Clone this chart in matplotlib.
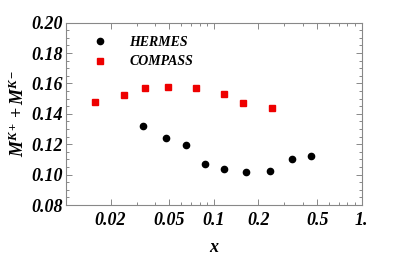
import numpy as np
import matplotlib.pyplot as plt
from matplotlib.ticker import FixedLocator, FixedFormatter, MultipleLocator, FormatStrFormatter

plt.rcParams['font.family'] = 'Liberation Serif'
plt.rcParams['mathtext.fontset'] = 'custom'
plt.rcParams['mathtext.bfit'] = 'Liberation Serif:bold:italic'
plt.rcParams['mathtext.it'] = 'Liberation Serif:bold:italic'
plt.rcParams['mathtext.rm'] = 'Liberation Serif:bold'

# HERMES data
x_hermes = [0.0334, 0.0473, 0.0646, 0.0869, 0.117, 0.165, 0.239, 0.337, 0.452]
m_hermes = [0.1318, 0.1243, 0.1195, 0.1070, 0.1039, 0.1019, 0.1026, 0.1105, 0.1124]

# COMPASS data
x_compass = [0.0156, 0.0246, 0.0343, 0.0489, 0.0763, 0.1174, 0.158, 0.248]
m_compass = [0.1476, 0.1522, 0.1572, 0.1579, 0.1568, 0.1533, 0.1473, 0.1440]

xticks = [0.02, 0.05, 0.1, 0.2, 0.5, 1.0]
xticklabels = ['0.02', '0.05', '0.1', '0.2', '0.5', '1.']

fig = plt.figure(figsize=(4.15, 2.58), dpi=100)
ax = fig.add_axes([66/415, 1-205/258, (361.7-66)/415, (205-22.7)/258])

ax.plot(x_hermes, m_hermes, 'o', color='black', ms=4.5, label='HERMES')
ax.plot(x_compass, m_compass, 's', color='#ee0000', ms=4, label='COMPASS')

ax.set_xscale('log')
ax.set_xlim(0.01, 1.0)
ax.set_ylim(0.08, 0.20)

ax.xaxis.set_major_locator(FixedLocator(xticks))
ax.xaxis.set_major_formatter(FixedFormatter(xticklabels))
minors = [m * 10.0**e for e in (-2, -1) for m in range(2, 10)]
ax.xaxis.set_minor_locator(FixedLocator(minors))
ax.xaxis.set_minor_formatter(FixedFormatter([''] * len(minors)))
ax.yaxis.set_major_locator(MultipleLocator(0.02))
ax.yaxis.set_minor_locator(MultipleLocator(0.005))
ax.yaxis.set_major_formatter(FormatStrFormatter('%.2f'))

for s in ax.spines.values():
    s.set_color('#888888')
    s.set_linewidth(0.8)
ax.tick_params(which='both', direction='in', top=True, right=True, color='#888888', width=0.7)
ax.tick_params(which='major', length=4, labelsize=13)
ax.tick_params(axis='x', which='major', pad=5)
ax.tick_params(axis='y', which='major', pad=2)
ax.tick_params(which='minor', length=2)
for lab in ax.get_xticklabels() + ax.get_yticklabels():
    lab.set_fontweight('bold')
    lab.set_fontstyle('italic')

ax.set_xlabel('x', fontsize=13, fontweight='bold', fontstyle='italic', labelpad=7)
ax.set_ylabel(r'$\mathbfit{M}^{\mathbfit{K}+}+\mathbfit{M}^{\mathbfit{K}-}$', fontsize=13, labelpad=3)

leg = ax.legend(loc='upper left', bbox_to_anchor=(0.05, 0.995), frameon=False,
                prop={'weight': 'bold', 'style': 'italic', 'size': 10},
                handletextpad=1.6, labelspacing=0.45, handlelength=1.0)

fig.savefig('out.png', dpi=100)
